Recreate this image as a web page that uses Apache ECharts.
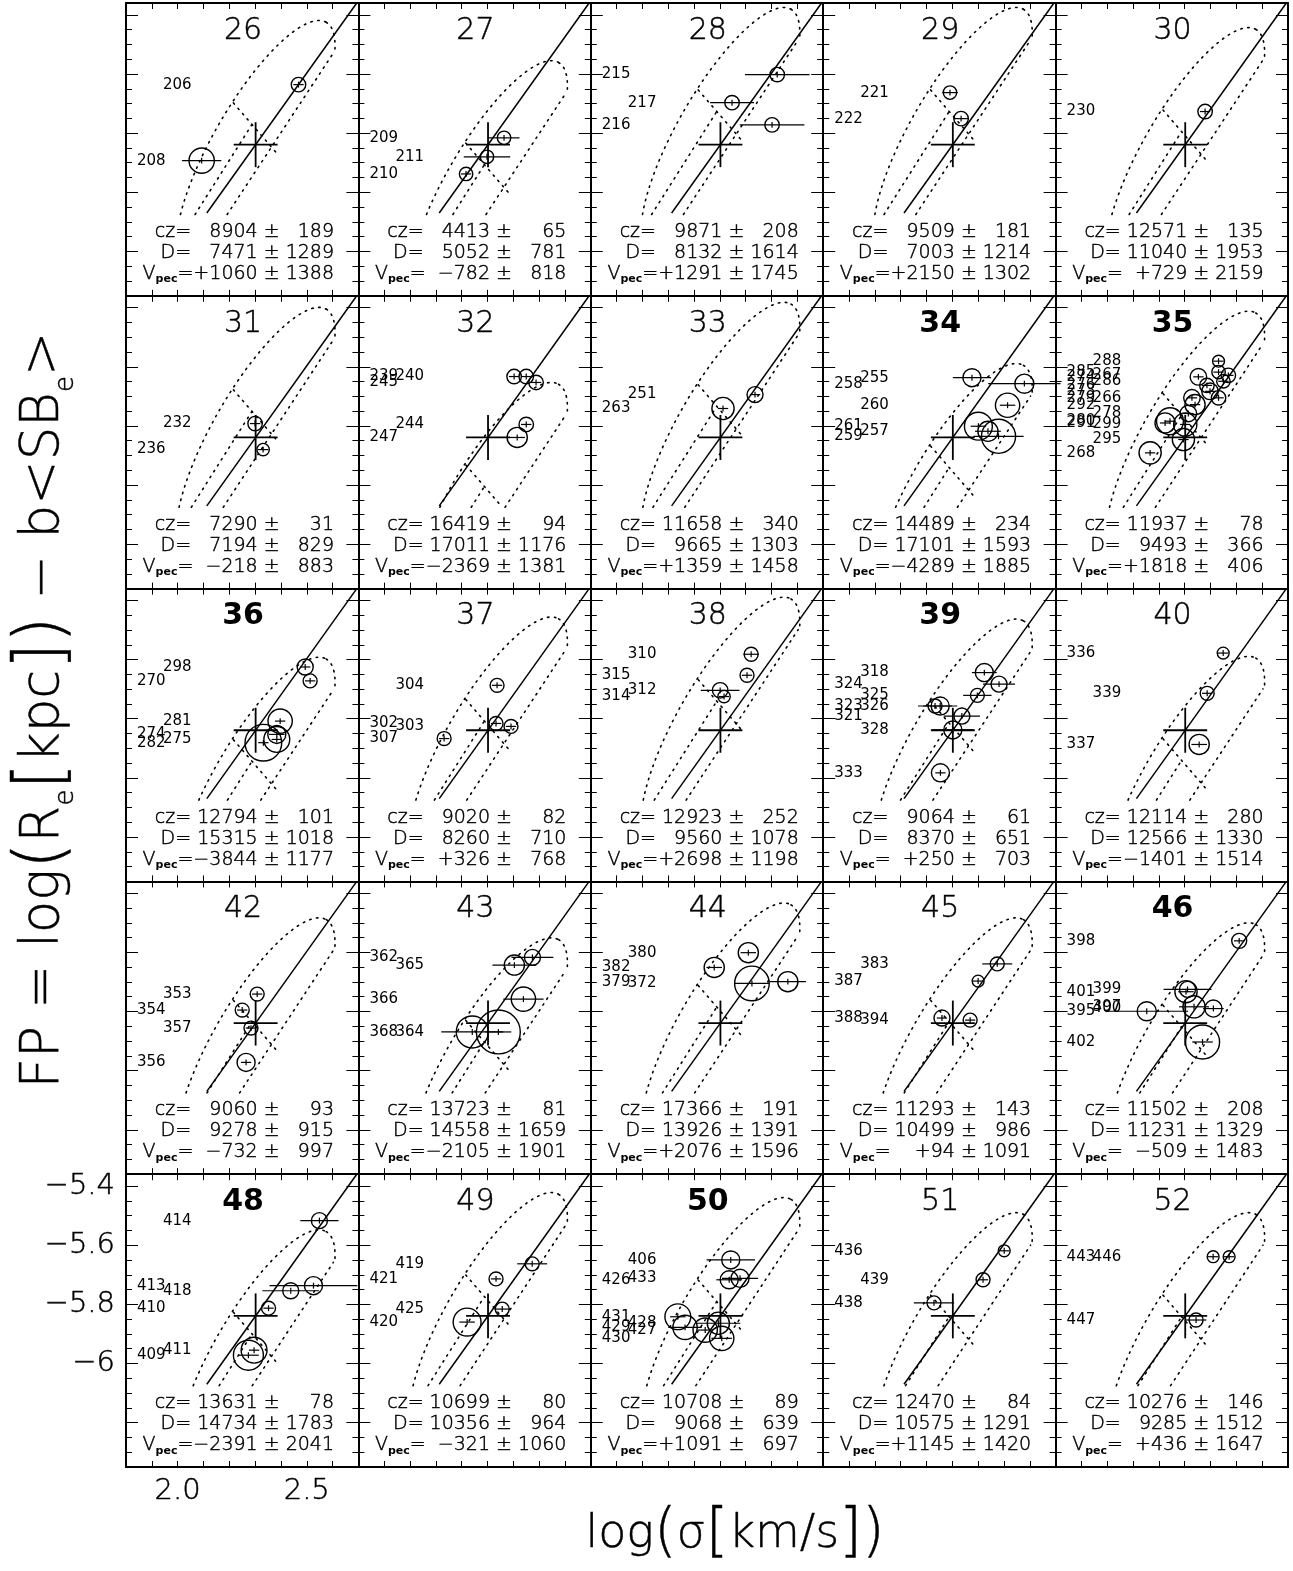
<!DOCTYPE html>
<html>
<head>
<meta charset="utf-8">
<script src="https://cdn.jsdelivr.net/npm/echarts@6/dist/echarts.min.js"></script>
<style>
  html, body { margin: 0; padding: 0; background: #fff; }
  #chart { width: 1293px; height: 1571px; }
</style>
</head>
<body>
<div id="chart"></div>
<script>
/* ------------------------------------------------------------------ */
/*  Data                                          */
/* ------------------------------------------------------------------ */
const clusterIds = [26, 27, 28, 29, 30, 31, 32, 33, 34, 35, 36, 37, 38, 39, 40, 42, 43, 44, 45, 46, 48, 49, 50, 51, 52];
const boldClusters = [34, 35, 36, 39, 46, 48, 50];

const czValues = [8904, 4413, 9871, 9509, 12571, 7290, 16419, 11658, 14489, 11937, 12794, 9020, 12923, 9064, 12114, 9060, 13723, 17366, 11293, 11502, 13631, 10699, 10708, 12470, 10276];
const czErrors = [189, 65, 208, 181, 135, 31, 94, 340, 234, 78, 101, 82, 252, 61, 280, 93, 81, 191, 143, 208, 78, 80, 89, 84, 146];
const distValues = [7471, 5052, 8132, 7003, 11040, 7194, 17011, 9665, 17101, 9493, 15315, 8260, 9560, 8370, 12566, 9278, 14558, 13926, 10499, 11231, 14734, 10356, 9068, 10575, 9285];
const distErrors = [1289, 781, 1614, 1214, 1953, 829, 1176, 1303, 1593, 366, 1018, 710, 1078, 651, 1330, 915, 1659, 1391, 986, 1329, 1783, 964, 639, 1291, 1512];
const vpecValues = [1060, -782, 1291, 2150, 729, -218, -2369, 1359, -4289, 1818, -3844, 326, 2698, 250, -1401, -732, -2105, 2076, 94, -509, -2391, -321, 1091, 1145, 436];
const vpecErrors = [1388, 818, 1745, 1302, 2159, 883, 1381, 1458, 1885, 406, 1177, 768, 1198, 703, 1514, 997, 1901, 1596, 1091, 1483, 2041, 1060, 697, 1420, 1647];

// galaxy: [id, log sigma, FP, err log sigma, err FP, circle radius (log sigma units), label column]
const g26 = [[206, 2.468, -5.636, 0.020, 0.010, 0.028, 1], [208, 2.093, -5.893, 0.076, 0.010, 0.049, 0]];
const g27 = [[209, 2.364, -5.816, 0.060, 0.010, 0.026, 0], [211, 2.298, -5.880, 0.090, 0.010, 0.026, 1], [210, 2.217, -5.938, 0.020, 0.010, 0.026, 0]];
const g28 = [[215, 2.522, -5.602, 0.125, 0.010, 0.028, 0], [217, 2.347, -5.697, 0.085, 0.010, 0.028, 1], [216, 2.502, -5.772, 0.125, 0.010, 0.028, 0]];
const g29 = [[221, 2.291, -5.663, 0.030, 0.010, 0.026, 1], [222, 2.334, -5.751, 0.030, 0.010, 0.028, 0]];
const g30 = [[230, 2.379, -5.727, 0.020, 0.010, 0.028, 0]];
const g31 = [[232, 2.300, -5.792, 0.020, 0.010, 0.028, 1], [236, 2.331, -5.880, 0.020, 0.010, 0.024, 0]];
const g32 = [[239, 2.403, -5.633, 0.020, 0.010, 0.028, 0], [240, 2.450, -5.633, 0.020, 0.010, 0.028, 1], [245, 2.488, -5.653, 0.020, 0.010, 0.028, 0], [244, 2.450, -5.795, 0.020, 0.010, 0.028, 1], [247, 2.415, -5.839, 0.030, 0.010, 0.039, 0]];
const g33 = [[251, 2.436, -5.694, 0.020, 0.010, 0.031, 1], [263, 2.312, -5.741, 0.020, 0.010, 0.043, 0]];
const g34 = [[255, 2.376, -5.637, 0.074, 0.010, 0.035, 1], [258, 2.579, -5.657, 0.140, 0.010, 0.037, 0], [260, 2.514, -5.730, 0.030, 0.010, 0.047, 1], [261, 2.401, -5.801, 0.030, 0.010, 0.054, 0], [257, 2.438, -5.818, 0.050, 0.010, 0.039, 1], [259, 2.479, -5.835, 0.097, 0.010, 0.066, 0]];
const g35 = [[288, 2.431, -5.581, 0.020, 0.010, 0.023, 1], [285, 2.431, -5.618, 0.020, 0.010, 0.026, 0], [267, 2.469, -5.629, 0.020, 0.010, 0.028, 1], [274, 2.353, -5.634, 0.020, 0.010, 0.032, 0], [286, 2.450, -5.649, 0.020, 0.010, 0.026, 1], [276, 2.386, -5.663, 0.020, 0.010, 0.028, 0], [273, 2.398, -5.683, 0.020, 0.010, 0.032, 0], [266, 2.431, -5.705, 0.020, 0.010, 0.028, 1], [279, 2.328, -5.705, 0.020, 0.010, 0.032, 0], [292, 2.340, -5.728, 0.020, 0.010, 0.039, 0], [278, 2.314, -5.758, 0.020, 0.010, 0.032, 1], [280, 2.243, -5.784, 0.020, 0.010, 0.052, 0], [299, 2.302, -5.795, 0.020, 0.010, 0.045, 1], [291, 2.224, -5.790, 0.020, 0.010, 0.039, 0], [295, 2.295, -5.846, 0.020, 0.010, 0.043, 1], [268, 2.166, -5.891, 0.020, 0.010, 0.043, 0]];
const g36 = [[298, 2.494, -5.625, 0.020, 0.010, 0.031, 1], [270, 2.513, -5.672, 0.020, 0.010, 0.027, 0], [281, 2.397, -5.808, 0.020, 0.010, 0.047, 1], [274, 2.384, -5.853, 0.030, 0.010, 0.035, 0], [275, 2.384, -5.870, 0.020, 0.010, 0.050, 1], [282, 2.332, -5.881, 0.020, 0.010, 0.071, 0]];
const g37 = [[304, 2.337, -5.687, 0.020, 0.010, 0.027, 1], [302, 2.333, -5.816, 0.020, 0.010, 0.027, 0], [303, 2.391, -5.826, 0.020, 0.010, 0.027, 1], [307, 2.132, -5.867, 0.020, 0.010, 0.027, 0]];
const g38 = [[310, 2.421, -5.582, 0.030, 0.010, 0.027, 1], [315, 2.405, -5.653, 0.020, 0.010, 0.027, 0], [312, 2.301, -5.704, 0.075, 0.010, 0.030, 1], [314, 2.316, -5.725, 0.020, 0.010, 0.024, 0]];
const g39 = [[318, 2.424, -5.644, 0.048, 0.010, 0.035, 1], [324, 2.481, -5.683, 0.062, 0.010, 0.031, 0], [325, 2.397, -5.721, 0.055, 0.010, 0.027, 1], [323, 2.233, -5.757, 0.066, 0.010, 0.027, 0], [326, 2.253, -5.757, 0.066, 0.010, 0.035, 1], [321, 2.337, -5.791, 0.070, 0.010, 0.031, 0], [328, 2.302, -5.838, 0.080, 0.010, 0.035, 1], [333, 2.254, -5.983, 0.020, 0.010, 0.035, 0]];
const g40 = [[336, 2.449, -5.578, 0.020, 0.010, 0.023, 0], [339, 2.387, -5.714, 0.020, 0.010, 0.027, 1], [337, 2.356, -5.887, 0.030, 0.010, 0.039, 0]];
const g42 = [[353, 2.308, -5.741, 0.020, 0.010, 0.027, 1], [354, 2.250, -5.795, 0.020, 0.010, 0.027, 0], [357, 2.284, -5.856, 0.020, 0.010, 0.027, 1], [356, 2.265, -5.972, 0.020, 0.010, 0.035, 0]];
const g43 = [[362, 2.474, -5.617, 0.081, 0.010, 0.031, 0], [365, 2.404, -5.643, 0.085, 0.010, 0.039, 1], [366, 2.439, -5.758, 0.078, 0.010, 0.047, 0], [368, 2.241, -5.869, 0.120, 0.010, 0.062, 0], [364, 2.342, -5.869, 0.050, 0.010, 0.085, 1]];
const g44 = [[380, 2.410, -5.601, 0.030, 0.010, 0.039, 1], [382, 2.278, -5.651, 0.030, 0.010, 0.039, 0], [379, 2.563, -5.699, 0.070, 0.010, 0.039, 0], [372, 2.424, -5.705, 0.066, 0.010, 0.067, 1]];
const g45 = [[383, 2.474, -5.639, 0.058, 0.010, 0.027, 1], [387, 2.400, -5.697, 0.020, 0.010, 0.023, 0], [388, 2.260, -5.822, 0.020, 0.010, 0.031, 0], [394, 2.369, -5.829, 0.020, 0.010, 0.027, 1]];
const g46 = [[398, 2.511, -5.561, 0.020, 0.010, 0.029, 0], [399, 2.311, -5.725, 0.093, 0.010, 0.031, 1], [401, 2.305, -5.733, 0.030, 0.010, 0.043, 0], [397, 2.336, -5.784, 0.058, 0.010, 0.043, 1], [395, 2.153, -5.799, 0.160, 0.010, 0.037, 0], [400, 2.411, -5.790, 0.040, 0.010, 0.033, 1], [402, 2.369, -5.903, 0.040, 0.010, 0.066, 0]];
const g48 = [[414, 2.549, -5.517, 0.074, 0.010, 0.031, 1], [413, 2.526, -5.737, 0.170, 0.010, 0.035, 0], [418, 2.438, -5.754, 0.110, 0.010, 0.031, 1], [410, 2.352, -5.813, 0.020, 0.010, 0.027, 0], [411, 2.296, -5.955, 0.020, 0.010, 0.050, 1], [409, 2.274, -5.972, 0.040, 0.010, 0.058, 0]];
const g49 = [[419, 2.473, -5.663, 0.058, 0.010, 0.027, 1], [421, 2.333, -5.714, 0.020, 0.010, 0.027, 0], [425, 2.357, -5.816, 0.030, 0.010, 0.027, 1], [420, 2.221, -5.860, 0.030, 0.010, 0.054, 0]];
const g50 = [[406, 2.342, -5.650, 0.094, 0.010, 0.035, 1], [426, 2.336, -5.717, 0.050, 0.010, 0.035, 0], [433, 2.378, -5.712, 0.070, 0.010, 0.035, 1], [431, 2.137, -5.842, 0.030, 0.010, 0.050, 0], [428, 2.294, -5.864, 0.085, 0.010, 0.043, 1], [429, 2.165, -5.878, 0.065, 0.010, 0.047, 0], [427, 2.243, -5.887, 0.030, 0.010, 0.047, 1], [430, 2.307, -5.915, 0.040, 0.010, 0.047, 0]];
const g51 = [[436, 2.501, -5.619, 0.020, 0.010, 0.023, 0], [439, 2.419, -5.717, 0.020, 0.010, 0.027, 1], [438, 2.229, -5.795, 0.078, 0.010, 0.027, 0]];
const g52 = [[443, 2.410, -5.639, 0.020, 0.010, 0.023, 0], [446, 2.472, -5.639, 0.020, 0.010, 0.023, 1], [447, 2.344, -5.853, 0.040, 0.010, 0.027, 0]];
const galaxySets = [g26, g27, g28, g29, g30, g31, g32, g33, g34, g35, g36, g37, g38, g39, g40, g42, g43, g44, g45, g46, g48, g49, g50, g51, g52];

// cluster point with its errors, FP slope, and the dotted model contours
const clusterPoint = [2.302, -5.839];
const clusterErr = [0.085, 0.076];
const fpSlope = 1.223;
const fpStartX = 2.113;
const ellMajor = [0.2733, 0.4139];
const ellMinor = [0.1410, -0.0712];
const cutLine = [[1.947, -6.40], [2.603, -5.529]];
const innerLine = [[1.832, -6.40], [2.287, -5.772]];
const selectionLine = [[2.216, -5.698], [2.384, -5.868]];
// vertical offset of the dotted contours in each cluster (FP units)
const contourShift = [0, -0.136, 0.044, 0.044, -0.024, 0.02, -0.234, 0.037, -0.17, 0.007, -0.173, -0.037, 0.03, -0.044, -0.17, -0.064, -0.132, -0.014, -0.064, -0.081, -0.129, -0.003, -0.02, -0.071, -0.071];

const xTickLabels = [2.0, 2.5];
const yTickLabels = [-5.4, -5.6, -5.8, -6.0];
const yMajorTicks = [-6.2, -6.0, -5.8, -5.6, -5.4];

/* ------------------------------------------------------------------ */
const X_MIN = 1.8, X_MAX = 2.7, Y_MIN = -6.35, Y_MAX = -5.36;
const CLIP_Y = -6.075;
const LEFT0 = 126, TOP0 = 3, PW = 232.4, PH = 292.8;
const LABELLED = 20;
const FONT = 'DejaVu Sans';
const THIN = 200;
const thinText = { fontFamily: FONT, fontWeight: THIN, fill: '#000', stroke: '#000', lineWidth: 0.45 };

const panelBox = i => ({ x: LEFT0 + (i % 5) * PW, y: TOP0 + Math.floor(i / 5) * PH });

// clip a polyline to y >= CLIP_Y, returning the visible pieces
function clipPolyline(points) {
  const segs = [];
  let cur = [];
  for (let k = 0; k < points.length; k++) {
    const p = points[k];
    const inside = p[1] >= CLIP_Y;
    if (k > 0) {
      const q = points[k - 1];
      const qin = q[1] >= CLIP_Y;
      if (inside !== qin) {
        const f = (CLIP_Y - q[1]) / (p[1] - q[1]);
        const cp = [q[0] + f * (p[0] - q[0]), CLIP_Y];
        if (qin) { cur.push(cp); segs.push(cur); cur = []; }
        else { cur = [cp]; }
      }
    }
    if (inside) cur.push(p);
  }
  if (cur.length > 1) segs.push(cur);
  return segs.filter(s => s.length > 1);
}

function ellipsePieces(shift) {
  const a = cutLine[0].map((v, d) => d ? v + shift : v);
  const b = cutLine[1].map((v, d) => d ? v + shift : v);
  const c = [clusterPoint[0], clusterPoint[1] + shift];
  const pieces = [];
  let cur = [];
  for (let k = 0; k <= 360; k += 2) {
    const t = k * Math.PI / 180;
    const p = [c[0] + Math.cos(t) * ellMajor[0] + Math.sin(t) * ellMinor[0],
               c[1] + Math.cos(t) * ellMajor[1] + Math.sin(t) * ellMinor[1]];
    const side = (b[0] - a[0]) * (p[1] - a[1]) - (b[1] - a[1]) * (p[0] - a[0]);
    if (side >= 0) cur.push(p);
    else { if (cur.length > 1) pieces.push(cur); cur = []; }
  }
  if (cur.length > 1) pieces.push(cur);
  return pieces.reduce((acc, seg) => acc.concat(clipPolyline(seg)), []);
}

function renderGalaxy(params, api) {
  const x = api.value(1), y = api.value(2);
  const ex = api.value(3), ey = api.value(4), rad = api.value(5), col = api.value(6);
  const c = api.coord([x, y]);
  const r = api.size([rad, 0])[0];
  const xl = api.coord([x - ex, y])[0], xr = api.coord([x + ex, y])[0];
  const yb = api.coord([x, y - ey])[1], yt = api.coord([x, y + ey])[1];
  const left = api.coord([X_MIN, y])[0];
  return {
    type: 'group',
    children: [
      { type: 'circle', shape: { cx: c[0], cy: c[1], r: r }, style: { stroke: '#000', fill: 'none', lineWidth: 1.4 } },
      { type: 'line', shape: { x1: xl, y1: c[1], x2: xr, y2: c[1] }, style: { stroke: '#000', lineWidth: 1.2 } },
      { type: 'line', shape: { x1: c[0], y1: yb, x2: c[0], y2: yt }, style: { stroke: '#000', lineWidth: 1.2 } },
      { type: 'text', style: { text: String(api.value(0)), x: left + (col ? 37 : 11), y: c[1], verticalAlign: 'middle', fontFamily: FONT, fontSize: 15, fill: '#000' } }
    ]
  };
}

function makeModelRenderer(shift) {
  return function (params, api) {
    const pts = arr => arr.map(p => api.coord(p));
    const shifted = arr => arr.map(p => [p[0], p[1] + shift]);
    const dotted = { stroke: '#000', fill: 'none', lineWidth: 1.6, lineDash: [1.5, 5.5], lineCap: 'round' };
    const solid = { stroke: '#000', fill: 'none', lineWidth: 1.5 };
    const heavy = { stroke: '#000', fill: 'none', lineWidth: 1.8 };
    const topX = clusterPoint[0] + (Y_MAX - clusterPoint[1]) / fpSlope;
    const fpLine = [[fpStartX, clusterPoint[1] + fpSlope * (fpStartX - clusterPoint[0])], [topX, Y_MAX]];
    const children = [
      { type: 'polyline', shape: { points: pts(fpLine) }, style: solid },
      { type: 'polyline', shape: { points: pts([[clusterPoint[0] - clusterErr[0], clusterPoint[1]], [clusterPoint[0] + clusterErr[0], clusterPoint[1]]]) }, style: heavy },
      { type: 'polyline', shape: { points: pts([[clusterPoint[0], clusterPoint[1] - clusterErr[1]], [clusterPoint[0], clusterPoint[1] + clusterErr[1]]]) }, style: heavy }
    ];
    const dottedPieces = ellipsePieces(shift)
      .concat(clipPolyline(shifted(cutLine)))
      .concat(clipPolyline(shifted(innerLine)))
      .concat(clipPolyline(shifted(selectionLine)));
    dottedPieces.forEach(seg => {
      children.push({ type: 'polyline', shape: { points: pts(seg) }, style: dotted });
    });
    return { type: 'group', children: children };
  };
}

const grids = [], xAxes = [], yAxes = [], series = [], graphics = [];
const axisLineStyle = { show: true, onZero: false, lineStyle: { color: '#000', width: 2 } };
const tickLine = { color: '#000', width: 1 };
const tickLabelStyle = { fontFamily: FONT, fontSize: 29, fontWeight: THIN, color: '#000', textBorderColor: '#000', textBorderWidth: 0.45 };

clusterIds.forEach((id, i) => {
  const box = panelBox(i);
  grids.push({ left: box.x, top: box.y, width: PW, height: PH });

  ['bottom', 'top'].forEach(pos => {
    xAxes.push({
      gridIndex: i, type: 'value', position: pos, min: X_MIN, max: X_MAX, interval: 0.1,
      axisLine: axisLineStyle,
      axisTick: { inside: true, length: 6, lineStyle: tickLine },
      axisLabel: (i === LABELLED && pos === 'bottom')
        ? Object.assign({ customValues: xTickLabels, formatter: v => v.toFixed(1), margin: 10 }, tickLabelStyle)
        : { show: false },
      splitLine: { show: false }
    });
  });
  ['left', 'right'].forEach(pos => {
    yAxes.push({
      gridIndex: i, type: 'value', position: pos, min: Y_MIN, max: Y_MAX, interval: 0.05,
      axisLine: axisLineStyle,
      axisTick: { inside: true, length: 6, lineStyle: tickLine },
      axisLabel: { show: false },
      splitLine: { show: false }
    });
  });
  ['left', 'right'].forEach(pos => {
    yAxes.push({
      gridIndex: i, type: 'value', position: pos, min: Y_MIN, max: Y_MAX,
      axisLine: { show: false },
      axisTick: { inside: true, length: 12, lineStyle: tickLine, customValues: yMajorTicks },
      axisLabel: (i === LABELLED && pos === 'left')
        ? Object.assign({ customValues: yTickLabels, formatter: v => (Math.abs(v + 6) < 1e-9 ? '\u22126' : '\u2212' + Math.abs(v).toFixed(1)), margin: 11 }, tickLabelStyle)
        : { show: false },
      splitLine: { show: false }
    });
  });

  series.push({
    type: 'custom', xAxisIndex: 2 * i, yAxisIndex: 4 * i, silent: true, clip: false, z: 3,
    data: [[X_MIN, Y_MIN]], renderItem: makeModelRenderer(contourShift[i])
  });
  series.push({
    type: 'custom', xAxisIndex: 2 * i, yAxisIndex: 4 * i, silent: true, clip: false, z: 4,
    encode: { x: 1, y: 2 }, data: galaxySets[i], renderItem: renderGalaxy
  });

  // panel title
  const bold = boldClusters.includes(id);
  graphics.push({
    type: 'text', x: box.x + 117, y: box.y + 28, silent: true,
    style: bold
      ? { text: String(id), fontFamily: FONT, fontSize: 30, fontWeight: 'bold', fill: '#000', textAlign: 'center', textVerticalAlign: 'middle' }
      : Object.assign({ text: String(id), fontSize: 30, textAlign: 'center', textVerticalAlign: 'middle' }, thinText)
  });

  // distance summary
  const pad = (s, w) => '\u2007'.repeat(Math.max(0, w - s.length)) + s;
  const signed = v => (v >= 0 ? '+' : '\u2212') + Math.abs(v);
  const lines = [
    '{t|cz= ' + pad(String(czValues[i]), 5) + ' \u00b1 ' + pad(String(czErrors[i]), 4) + '}',
    '{t|D= ' + pad(String(distValues[i]), 5) + ' \u00b1 ' + pad(String(distErrors[i]), 4) + '}',
    '{t|V}{s|pec}{t|=' + pad(signed(vpecValues[i]), 5) + ' \u00b1 ' + pad(String(vpecErrors[i]), 4) + '}'
  ];
  lines.forEach((txt, k) => {
    graphics.push({
      type: 'text', x: box.x + 208, y: box.y + 229 + k * 21, silent: true,
      style: {
        text: txt, textAlign: 'right', textVerticalAlign: 'middle',
        rich: {
          t: Object.assign({ fontSize: 19, lineHeight: 22 }, thinText),
          s: { fontFamily: FONT, fontSize: 11, fontWeight: 'bold', fill: '#000', lineHeight: 22, verticalAlign: 'bottom', padding: [12, 0, 0, 0] }
        }
      }
    });
  });
});

// axis titles
graphics.push({
  type: 'text', x: 44, y: 710, rotation: Math.PI / 2, silent: true,
  style: {
    text: '{n|FP = log}{p|(}{n|R}{s|e}{p|[}{n|kpc}{p|])}{n| \u2212 b<SB}{s|e}{n|>}',
    textAlign: 'center', textVerticalAlign: 'middle',
    rich: {
      n: Object.assign({ fontSize: 53, lineHeight: 70 }, thinText),
      p: Object.assign({ fontSize: 68, lineHeight: 70 }, thinText),
      s: Object.assign({ fontSize: 26, lineHeight: 70, verticalAlign: 'bottom', padding: [27, 0, 0, 0] }, thinText)
    }
  }
});
graphics.push({
  type: 'text', x: 735, y: 1535, silent: true,
  style: {
    text: '{n|log}{p|(}{n|\u03c3}{p|[}{n|km/s}{p|])}',
    textAlign: 'center', textVerticalAlign: 'middle',
    rich: {
      n: Object.assign({ fontSize: 46, lineHeight: 64 }, thinText),
      p: Object.assign({ fontSize: 58, lineHeight: 64 }, thinText)
    }
  }
});

const chart = echarts.init(document.getElementById('chart'));
chart.setOption({
  animation: false,
  backgroundColor: '#fff',
  grid: grids,
  xAxis: xAxes,
  yAxis: yAxes,
  series: series,
  graphic: graphics
});
</script>
</body>
</html>
